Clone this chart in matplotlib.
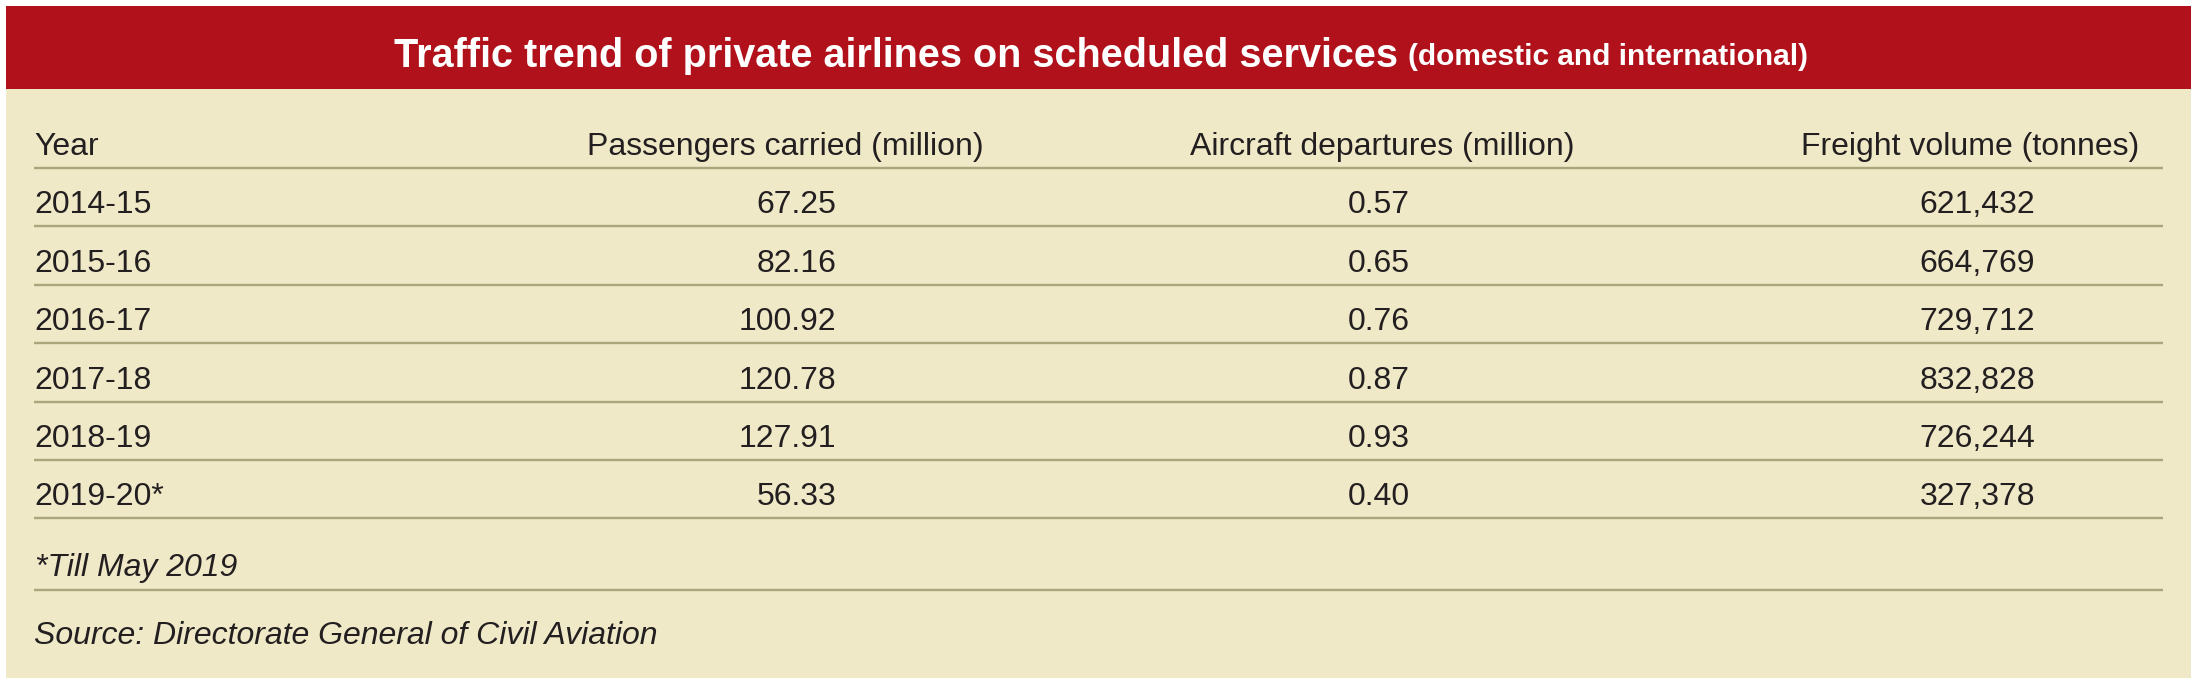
import matplotlib
matplotlib.use("Agg")
import matplotlib.pyplot as plt
from matplotlib.patches import Rectangle

# table contents
years = ["2014-15", "2015-16", "2016-17", "2017-18", "2018-19", "2019-20*"]
passengers = [67.25, 82.16, 100.92, 120.78, 127.91, 56.33]
departures = [0.57, 0.65, 0.76, 0.87, 0.93, 0.40]
freight = [621432, 664769, 729712, 832828, 726244, 327378]
headers = ["Year", "Passengers carried (million)",
           "Aircraft departures (million)", "Freight volume (tonnes)"]
title = "Traffic trend of private airlines on scheduled services"
subtitle = "(domestic and international)"
footnote = "*Till May 2019"
source = "Source: Directorate General of Civil Aviation"

RED = "#B0111A"
BEIGE = "#EFE9C8"
RULE = "#A8A67A"
INK = "#231F20"

W, H = 2196, 690
fig = plt.figure(figsize=(W / 100, H / 100), dpi=100)
fig.patch.set_facecolor("white")
ax = fig.add_axes([0, 0, 1, 1])
ax.set_xlim(0, W)
ax.set_ylim(H, 0)
ax.axis("off")

body = ["Liberation Sans", "DejaVu Sans"]

ax.add_patch(Rectangle((6, 6), 2185, 83, facecolor=RED, edgecolor="none"))
ax.add_patch(Rectangle((6, 89), 2185, 589, facecolor=BEIGE, edgecolor="none"))

# title: main part + smaller part, centred as a group
r = fig.canvas.get_renderer()
t1 = ax.text(0, 67, title, color="white", fontsize=28.5, fontweight="bold",
             family=body, va="baseline", ha="left")
t2 = ax.text(0, 65, subtitle, color="white", fontsize=21.5, fontweight="bold",
             family=body, va="baseline", ha="left")
w1 = t1.get_window_extent(r).width
w2 = t2.get_window_extent(r).width
gap = 9
x0 = 1101 - (w1 + gap + w2) / 2
t1.set_x(x0)
t2.set_x(x0 + w1 + gap)

# columns: header right edge, value right edge
hdr_right = [None, 984, 1574, 2139]
val_right = [None, 836, 1410, 2035]
fs = 23

rule_y = [168 + 58.4 * i for i in range(7)]
ax.text(34, rule_y[0] - 13, headers[0], fontsize=fs, family=body, color=INK,
        va="baseline", ha="left")
for j in range(1, 4):
    ax.text(hdr_right[j], rule_y[0] - 13, headers[j], fontsize=fs, family=body,
            color=INK, va="baseline", ha="right")

for i, yr in enumerate(years):
    yb = rule_y[i + 1] - 13
    ax.text(34, yb, yr, fontsize=fs, family=body, color=INK, va="baseline", ha="left")
    ax.text(val_right[1], yb, f"{passengers[i]:.2f}", fontsize=fs, family=body,
            color=INK, va="baseline", ha="right")
    ax.text(val_right[2], yb, f"{departures[i]:.2f}", fontsize=fs, family=body,
            color=INK, va="baseline", ha="right")
    ax.text(val_right[3], yb, f"{freight[i]:,}", fontsize=fs, family=body,
            color=INK, va="baseline", ha="right")

for y in rule_y + [590]:
    ax.plot([34, 2163], [y, y], color=RULE, lw=1.7, solid_capstyle="butt")

ax.text(35, 576, footnote, fontsize=fs, family=body, style="italic", color=INK,
        va="baseline", ha="left")
ax.text(34, 644, source, fontsize=fs, family=body, style="italic", color=INK,
        va="baseline", ha="left")

fig.savefig("out.png", dpi=100, facecolor=fig.get_facecolor())
